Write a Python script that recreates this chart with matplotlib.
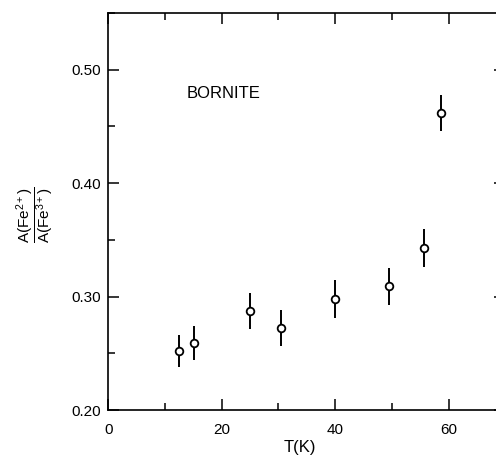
import matplotlib
matplotlib.use("Agg")
import matplotlib.pyplot as plt
from matplotlib.ticker import MultipleLocator

plt.rcParams['font.family'] = ['Liberation Sans', 'DejaVu Sans']
plt.rcParams['mathtext.fontset'] = 'custom'
plt.rcParams['mathtext.rm'] = 'Liberation Sans'
plt.rcParams['mathtext.it'] = 'Liberation Sans'

# Data
temperature = [12.5, 15.1, 25.0, 30.5, 39.9, 49.5, 55.6, 58.7]
ratio = [0.252, 0.259, 0.287, 0.272, 0.298, 0.309, 0.343, 0.462]
ratio_err = [0.014, 0.015, 0.016, 0.016, 0.017, 0.016, 0.017, 0.016]

x_ticks = [0, 20, 40, 60]
x_ticklabels = ["0", "20", "40", "60"]
y_ticks = [0.20, 0.30, 0.40, 0.50]
y_ticklabels = ["0.20", "0.30", "0.40", "0.50"]

W, H = 496, 461
fig = plt.figure(figsize=(W / 100, H / 100), dpi=100)
ax = fig.add_axes([108.2 / W, 51 / H, 397.3 / W, 397 / H])

ax.errorbar(temperature, ratio, yerr=ratio_err, fmt='o', color='black',
            ecolor='black', elinewidth=1.4, capsize=0,
            markersize=5.5, markerfacecolor='white', markeredgewidth=1.3,
            markeredgecolor='black', zorder=3)

ax.set_xlim(0, 70)
ax.set_ylim(0.20, 0.55)
ax.set_xticks(x_ticks)
ax.set_xticklabels(x_ticklabels)
ax.set_yticks(y_ticks)
ax.set_yticklabels(y_ticklabels)
ax.xaxis.set_minor_locator(MultipleLocator(10))
ax.yaxis.set_minor_locator(MultipleLocator(0.05))

ax.tick_params(which='both', direction='in', top=True, right=True, width=1.1, colors='black')
ax.tick_params(which='major', length=8)
ax.tick_params(which='minor', length=5)
ax.tick_params(axis='x', which='major', pad=9, labelsize=11)
ax.tick_params(axis='y', which='major', pad=5, labelsize=11)

for sp in ax.spines.values():
    sp.set_linewidth(1.2)

ax.text(13.9, 0.479, "BORNITE", fontsize=12, va='center', ha='left')

ax.set_xlabel("T(K)", fontsize=12)
ax.xaxis.set_label_coords((300 - 108.2) / 397.3, -(447 - 410) / 397)
ax.xaxis.label.set_va('center')

ax.set_ylabel(r'$\dfrac{\mathrm{A(Fe^{2+})}}{\mathrm{A(Fe^{3+})}}$', fontsize=11)
ax.yaxis.set_label_coords(-(108.2 - 35) / 397.3, (410 - 215) / 397)
ax.yaxis.label.set_va('center')

fig.savefig("out.png", dpi=100)
